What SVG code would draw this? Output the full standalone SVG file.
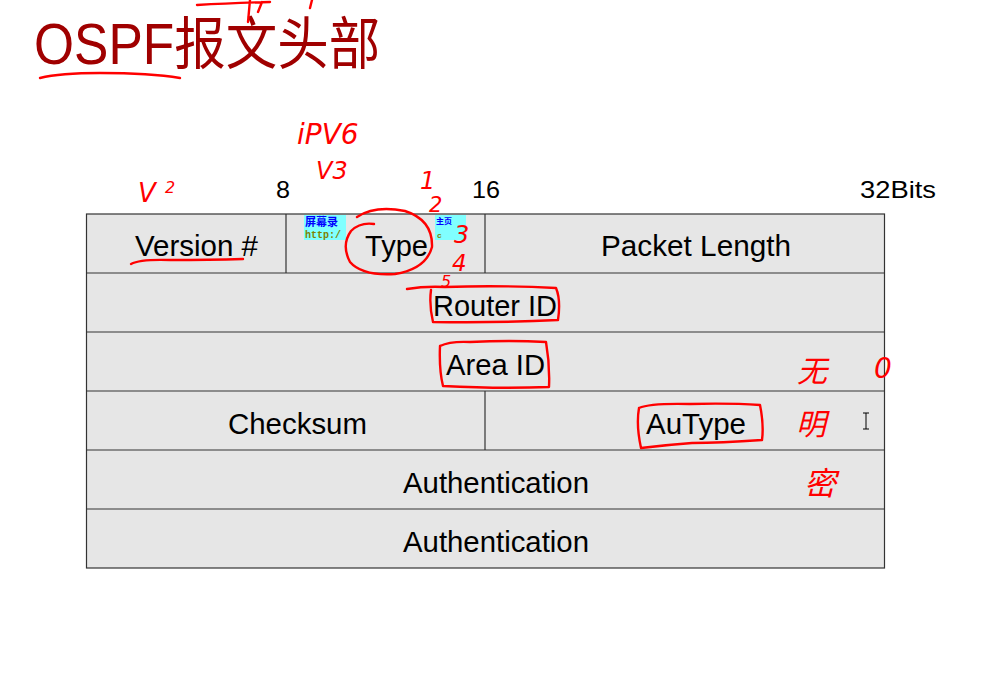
<svg xmlns="http://www.w3.org/2000/svg" width="988" height="673" viewBox="0 0 988 673">
<style>
.cell{fill:#e6e6e6;stroke:#333;stroke-width:1.2}
.div{stroke:#333;stroke-width:1.2}
.lbl{font-family:"Liberation Sans",Arial,sans-serif;font-size:29px;fill:#000;text-anchor:middle}
.bit{font-family:"Liberation Sans",Arial,sans-serif;font-size:24px;fill:#000}
.ink{fill:none;stroke:#f00;stroke-width:2.4;stroke-linecap:round;stroke-linejoin:round}
.hw{font-family:"DejaVu Sans","Noto Sans CJK SC",sans-serif;fill:#f00;font-style:italic}
</style>
<rect width="988" height="673" fill="#fff"/>
<text transform="translate(34,64) scale(1,1.1)" font-family="'Liberation Sans','Noto Sans CJK SC',sans-serif" font-size="51.5" fill="#a00000">OSPF报文头部</text>
<g id="bits">
<text class="bit" x="276" y="198" textLength="14" lengthAdjust="spacingAndGlyphs">8</text>
<text class="bit" x="472" y="198" textLength="28" lengthAdjust="spacingAndGlyphs">16</text>
<text class="bit" x="860" y="198" textLength="76" lengthAdjust="spacingAndGlyphs">32Bits</text>
</g>
<g id="table">
<rect class="cell" x="86.5" y="214" width="798" height="354"/>
<line class="div" x1="86.5" y1="273" x2="884.5" y2="273"/>
<line class="div" x1="86.5" y1="332" x2="884.5" y2="332"/>
<line class="div" x1="86.5" y1="391" x2="884.5" y2="391"/>
<line class="div" x1="86.5" y1="450" x2="884.5" y2="450"/>
<line class="div" x1="86.5" y1="509" x2="884.5" y2="509"/>
<line class="div" x1="286" y1="214" x2="286" y2="273"/>
<line class="div" x1="485" y1="214" x2="485" y2="273"/>
<line class="div" x1="485" y1="391" x2="485" y2="450"/>
</g>
<g id="n-version"><text class="lbl" x="196.5" y="256" textLength="123" lengthAdjust="spacingAndGlyphs">Version #</text></g>
<g id="n-type"><text class="lbl" x="396.5" y="256" textLength="63" lengthAdjust="spacingAndGlyphs">Type</text></g>
<g id="n-length"><text class="lbl" x="696" y="256" textLength="190" lengthAdjust="spacingAndGlyphs">Packet Length</text></g>
<g id="n-router"><text class="lbl" x="495" y="316" textLength="124" lengthAdjust="spacingAndGlyphs">Router ID</text></g>
<g id="n-area"><text class="lbl" x="495.5" y="375" textLength="99" lengthAdjust="spacingAndGlyphs">Area ID</text></g>
<g id="n-checksum"><text class="lbl" x="297.5" y="434" textLength="139" lengthAdjust="spacingAndGlyphs">Checksum</text></g>
<g id="n-autype"><text class="lbl" x="696" y="434" textLength="100" lengthAdjust="spacingAndGlyphs">AuType</text></g>
<g id="n-auth1"><text class="lbl" x="496" y="493" textLength="186" lengthAdjust="spacingAndGlyphs">Authentication</text></g>
<g id="n-auth2"><text class="lbl" x="496" y="552" textLength="186" lengthAdjust="spacingAndGlyphs">Authentication</text></g>
<g id="watermark">
<rect x="304" y="215" width="42" height="25" fill="#80ffff"/>
<text x="305" y="226" font-family="'Noto Sans CJK SC',sans-serif" font-size="11" font-weight="bold" fill="#0000ff">屏幕录</text>
<text x="305" y="238" font-family="'Liberation Mono',monospace" font-size="10" font-weight="bold" fill="#808000">http:/</text>
<rect x="435" y="215" width="31" height="25" fill="#80ffff"/>
<text x="436" y="224" font-family="'Noto Sans CJK SC',sans-serif" font-size="8" font-weight="bold" fill="#0000ff">主页</text>
<text x="437" y="238" font-family="'Liberation Mono',monospace" font-size="8" font-weight="bold" fill="#808000">c</text>
</g>
<g id="connectors">
<path class="ink" d="M40,78 Q60,73 100,73 Q150,73 180,78"/>
<path class="ink" d="M131,264 Q140,259 170,260 Q210,260 243,259"/>
<path class="ink" d="M357,217 Q375,205 405,211 Q433,220 432,247 Q426,269 395,274 Q362,276 350,262 Q341,245 351,231 Q360,222 374,224"/>
<path class="ink" d="M407,289 Q425,286 445,287 Q500,285 556,288 Q561,300 558,320 Q500,323 433,322 Q429,305 431,290"/>
<path class="ink" d="M440,346 Q450,341 470,342 Q510,340 546,342 Q550,365 549,387 Q500,389 443,386 Q439,370 440,346"/>
<path class="ink" d="M639,408 Q650,403 690,404 Q730,403 760,405 Q764,425 762,440 Q720,443 692,443 Q665,445 641,448 Q636,425 639,408"/>
<path class="ink" d="M197,5 Q230,3 270,2 M250,0 L248,22 M262,2 L258,12 M312,0 L310,8"/>
</g>
<g id="handwriting">
<text class="hw" x="138" y="202" font-size="26">V</text>
<text class="hw" x="165" y="193" font-size="16">2</text>
<text class="hw" x="297" y="144" font-size="28">iPV6</text>
<text class="hw" x="316" y="179" font-size="24">V3</text>
<text class="hw" x="420" y="189" font-size="24">1</text>
<text class="hw" x="429" y="212" font-size="21">2</text>
<text class="hw" x="454" y="243" font-size="24">3</text>
<text class="hw" x="452" y="271" font-size="23">4</text>
<text class="hw" x="441" y="287" font-size="16">5</text>
<text class="hw" x="797" y="382" font-size="30">无</text>
<text class="hw" x="874" y="378" font-size="28">0</text>
<text class="hw" x="796" y="435" font-size="30">明</text>
<text class="hw" x="804" y="495" font-size="32">密</text>
</g>
<g id="cursor">
<path d="M863,413 h6 M866,413 v16 M863,429 h6" stroke="#000" stroke-width="1" fill="none"/>
</g>
</svg>
